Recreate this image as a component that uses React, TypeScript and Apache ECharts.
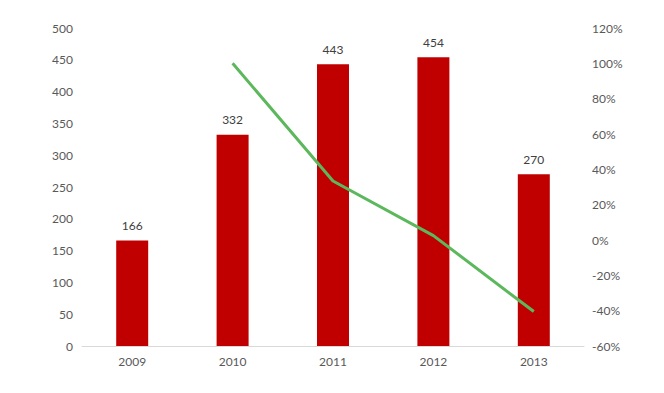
import React, { useEffect, useRef } from "react";
import * as echarts from "echarts";

const categories = ["2009", "2010", "2011", "2012", "2013"];
const salesValues = [166, 332, 443, 454, 270];
const growthValues: (number | null)[] = [null, 1.0, 0.334, 0.025, -0.405];

export default function App() {
  const ref = useRef<HTMLDivElement>(null);
  useEffect(() => {
    if (!ref.current) return;
    const chart = echarts.init(ref.current, undefined, { renderer: "svg" });
    const font = "Lato, 'Open Sans', sans-serif";
    chart.setOption({
      animation: false,
      textStyle: { fontFamily: font },
      grid: { left: 82, right: 80, top: 28, bottom: 47 },
      xAxis: {
        type: "category",
        data: categories,
        axisLine: { lineStyle: { color: "#d9d9d9", width: 1 } },
        axisTick: { show: false },
        axisLabel: { color: "#595959", fontSize: 12, margin: 9, fontFamily: font },
      },
      yAxis: [
        {
          type: "value",
          min: 0,
          max: 500,
          interval: 50,
          splitLine: { show: false },
          axisLine: { show: false },
          axisTick: { show: false },
          axisLabel: { color: "#595959", fontSize: 12, margin: 9, fontFamily: font },
        },
        {
          type: "value",
          min: -0.6,
          max: 1.2,
          interval: 0.2,
          splitLine: { show: false },
          axisLine: { show: false },
          axisTick: { show: false },
          axisLabel: {
            color: "#595959",
            fontSize: 12,
            margin: 8,
            fontFamily: font,
            formatter: (v: number) => Math.round(v * 100) + "%",
          },
        },
      ],
      series: [
        {
          type: "bar",
          data: salesValues,
          barWidth: 32,
          itemStyle: { color: "#C00000" },
          label: {
            show: true,
            position: "top",
            distance: 9,
            color: "#404040",
            fontSize: 12,
            fontFamily: font,
          },
        },
        {
          type: "line",
          yAxisIndex: 1,
          data: growthValues,
          symbol: "none",
          lineStyle: { color: "#5CB85C", width: 3 },
          itemStyle: { color: "#5CB85C" },
        },
      ],
    });
    return () => chart.dispose();
  }, []);
  return <div ref={ref} style={{ width: 664, height: 393, margin: -8 }} />;
}
